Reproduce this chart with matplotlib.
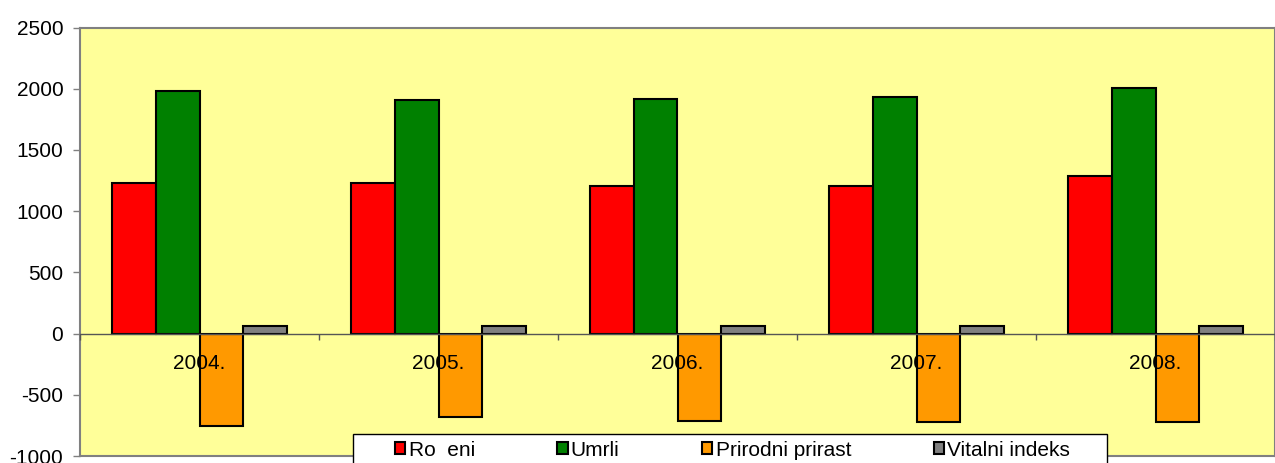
import numpy as np
import matplotlib
matplotlib.use("Agg")
import matplotlib.pyplot as plt
from matplotlib.patches import Patch, Rectangle

plt.rcParams["font.family"] = ["Liberation Sans", "DejaVu Sans"]
plt.rcParams["axes.unicode_minus"] = False

# ── Data ──
years = ["2004.", "2005.", "2006.", "2007.", "2008."]
rodeni = [1226, 1226, 1204, 1203, 1283]
umrli = [1978, 1907, 1915, 1929, 2003]
prirast = [-752, -681, -711, -726, -720]
vitalni = [62, 64, 63, 62, 64]

series = ["Ro  eni", "Umrli", "Prirodni prirast", "Vitalni indeks"]
colors = ["#FF0000", "#008000", "#FF9900", "#808080"]
values = [rodeni, umrli, prirast, vitalni]

W, H = 1275, 463
fig = plt.figure(figsize=(W / 100, H / 100), dpi=100)
ax = fig.add_axes([80 / W, 1 - 456 / H, 1 - 80 / W, (456 - 27.5) / H])
ax.set_facecolor("#FFFF99")

x = np.arange(len(years))
bw = 0.184
for i, (vals, c) in enumerate(zip(values, colors)):
    ax.bar(x + (i - 1.5) * bw, vals, width=bw, color=c, edgecolor="black",
           linewidth=1.5, zorder=3)

ax.set_xlim(-0.5, len(years) - 0.5)
ymin, ymax = -1000, 2500
ax.set_ylim(ymin, ymax)
ax.set_yticks(np.arange(-1000, 2501, 500))
ax.tick_params(axis="y", labelsize=15, length=5, width=1, color="#808080", pad=7)
ax.set_xticks([])
for s in ax.spines.values():
    s.set_color("#808080")
    s.set_linewidth(1.5)

# category axis crossing at zero
sec = ax.secondary_xaxis((0 - ymin) / (ymax - ymin))
sec.set_zorder(4)
sec.spines["bottom"].set_color("#555555")
sec.spines["bottom"].set_linewidth(1)
sec.set_xticks(x)
sec.set_xticklabels(years)
sec.tick_params(axis="x", which="major", length=0, labelsize=15, pad=15)
sec.set_xticks(np.arange(len(years) + 1) - 0.5, minor=True)
sec.tick_params(axis="x", which="minor", length=4, width=1, color="#555555")

# legend box (cut off at the bottom edge, as in the original)
fig.patches.append(Rectangle((353 / W, -0.05), 754 / W, 0.05 + 1 - 434 / H,
                             transform=fig.transFigure, facecolor="white",
                             edgecolor="black", linewidth=1, zorder=4))
handles = [Patch(facecolor=c, edgecolor="black", linewidth=1.5) for c in colors]
leg = fig.legend(handles, series, loc="center left", ncol=4, mode="expand",
                 bbox_to_anchor=(395 / W, 1 - 450 / H, 675 / W, 0),
                 borderaxespad=0, borderpad=0, fontsize=15, handlelength=0.5,
                 handleheight=0.5, handletextpad=0.15, frameon=False)
leg.set_zorder(5)

fig.savefig("out.png", dpi=100)
